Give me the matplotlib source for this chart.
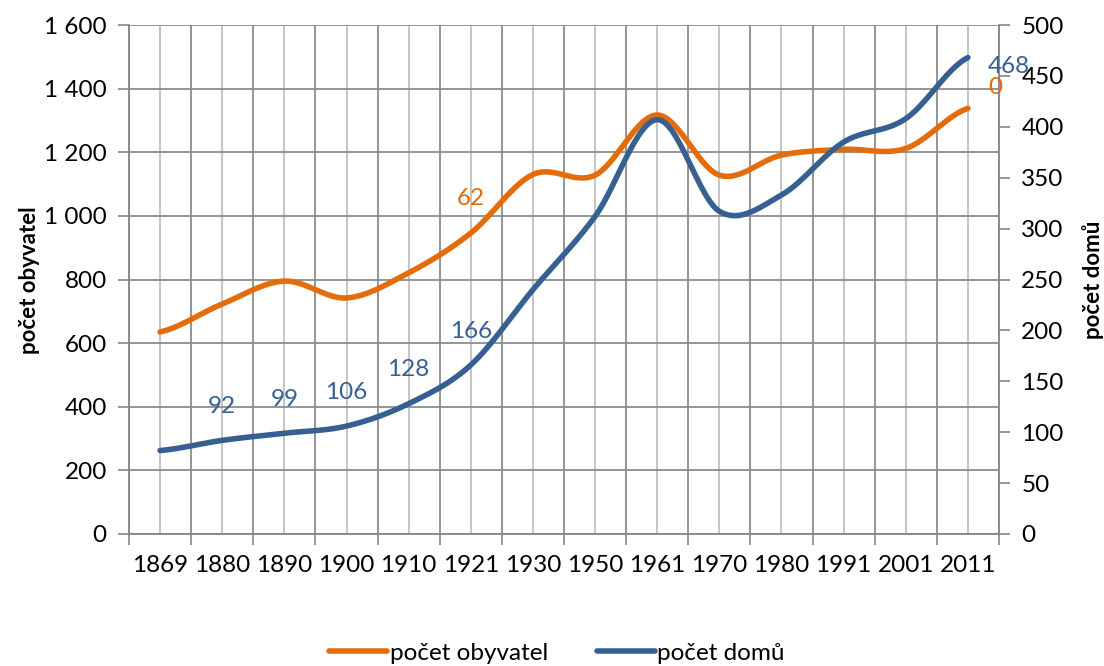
import numpy as np
import matplotlib
matplotlib.use("Agg")
import matplotlib.pyplot as plt
from matplotlib.ticker import FuncFormatter, MultipleLocator

plt.rcParams['font.family'] = ['Lato', 'DejaVu Sans']

years = ['1869', '1880', '1890', '1900', '1910', '1921', '1930', '1950',
         '1961', '1970', '1980', '1991', '2001', '2011']
obyvatel = [635, 723, 795, 742, 821, 946, 1130, 1128, 1317, 1128, 1191, 1209, 1212, 1338]
domu = [82, 92, 99, 106, 128, 166, 240, 312, 407, 317, 333, 385, 408, 468]

# data labels as they appear in the original (some look broken, kept anyway)
obyv_labels = {5: '62', 13: '0'}
domu_labels = {1: '92', 2: '99', 3: '106', 4: '128', 5: '166', 13: '468'}

c_obyv = '#E46C0A'
c_domu = '#376092'
FS = 17.5


def smooth(y, n=30):
    # catmull-rom like the excel "smoothed line" option
    y = np.asarray(y, float)
    x = np.arange(len(y), dtype=float)
    p = np.concatenate([[y[0]], y, [y[-1]]])
    xs, ys = [], []
    t = np.linspace(0, 1, n, endpoint=False)
    for i in range(len(y) - 1):
        p0, p1, p2, p3 = p[i], p[i + 1], p[i + 2], p[i + 3]
        m1 = (p2 - p0) / 2
        m2 = (p3 - p1) / 2
        h00 = 2 * t**3 - 3 * t**2 + 1
        h10 = t**3 - 2 * t**2 + t
        h01 = -2 * t**3 + 3 * t**2
        h11 = t**3 - t**2
        ys.append(h00 * p1 + h10 * m1 + h01 * p2 + h11 * m2)
        xs.append(x[i] + t)
    xs.append([x[-1]])
    ys.append([y[-1]])
    return np.concatenate(xs), np.concatenate(ys)


fig = plt.figure(figsize=(11.04, 6.66), dpi=100)
ax = fig.add_axes([129 / 1104, 1 - 534 / 666, 870 / 1104, 509 / 666])
ax2 = ax.twinx()

x = np.arange(len(years))
ax.set_xlim(-0.5, len(years) - 0.5)
ax.set_ylim(0, 1600)
ax2.set_ylim(0, 500)

# grid: dark lines between categories, light lines on categories
ax.set_xticks(np.arange(-0.5, len(years), 1.0))
ax.set_xticks(x, minor=True)
ax.set_xticklabels([])
ax.set_xticklabels(years, minor=True)
ax.tick_params(axis='x', which='major', length=8, width=1.2, color='#868686')
ax.tick_params(axis='x', which='minor', length=0, labelsize=FS, pad=15)
ax.grid(axis='x', which='major', color='#8c8c8c', lw=1.3)
ax.grid(axis='x', which='minor', color='#c0c0c0', lw=1.3)
ax.yaxis.set_major_locator(MultipleLocator(200))
ax.grid(axis='y', which='major', color='#8c8c8c', lw=1.3)
ax.yaxis.set_major_formatter(FuncFormatter(lambda v, p: f'{int(v):,}'.replace(',', ' ')))
ax.tick_params(axis='y', length=8, width=1.2, color='#868686', labelsize=FS, pad=8)
ax2.yaxis.set_major_locator(MultipleLocator(50))
ax2.tick_params(axis='y', length=8, width=1.2, color='#868686', labelsize=FS, pad=8)
ax.set_axisbelow(True)

for a in (ax, ax2):
    for s in a.spines.values():
        s.set_visible(False)
for a, side in ((ax, 'left'), (ax, 'bottom'), (ax2, 'right')):
    a.spines[side].set_visible(True)
    a.spines[side].set_color('#868686')
    a.spines[side].set_linewidth(1.3)

xs, ys = smooth(obyvatel)
l1, = ax.plot(xs, ys, color=c_obyv, lw=4, solid_capstyle='round', label='počet obyvatel')
xs, ys = smooth(domu)
l2, = ax2.plot(xs, ys, color=c_domu, lw=4, solid_capstyle='round', label='počet domů')

for i, t in domu_labels.items():
    if i == 13:
        ax2.annotate(t, (x[i], domu[i]), xytext=(20, -9), textcoords='offset pixels',
                     ha='left', va='center', color=c_domu, fontsize=FS)
    else:
        ax2.annotate(t, (x[i], domu[i]), xytext=(0, 34), textcoords='offset pixels',
                     ha='center', va='center', color=c_domu, fontsize=FS)
for i, t in obyv_labels.items():
    if i == 13:
        ax.annotate(t, (x[i], obyvatel[i]), xytext=(20, 21), textcoords='offset pixels',
                    ha='left', va='center', color=c_obyv, fontsize=FS)
    else:
        ax.annotate(t, (x[i], obyvatel[i]), xytext=(0, 35), textcoords='offset pixels',
                    ha='center', va='center', color=c_obyv, fontsize=FS)

fig.text(30 / 1104, 1 - 280 / 666, 'počet obyvatel', rotation=90, ha='center', va='center',
         fontsize=16, fontweight='bold')
fig.text(1093 / 1104, 1 - 280 / 666, 'počet domů', rotation=90, ha='center', va='center',
         fontsize=16, fontweight='bold')

fig.legend(handles=[l1, l2], loc='center', bbox_to_anchor=(557 / 1104, 1 - 653 / 666),
           ncol=2, frameon=False, fontsize=FS, handlelength=2.4, handletextpad=0.1,
           columnspacing=2.0)

fig.savefig('out.png', dpi=100, facecolor='white')
